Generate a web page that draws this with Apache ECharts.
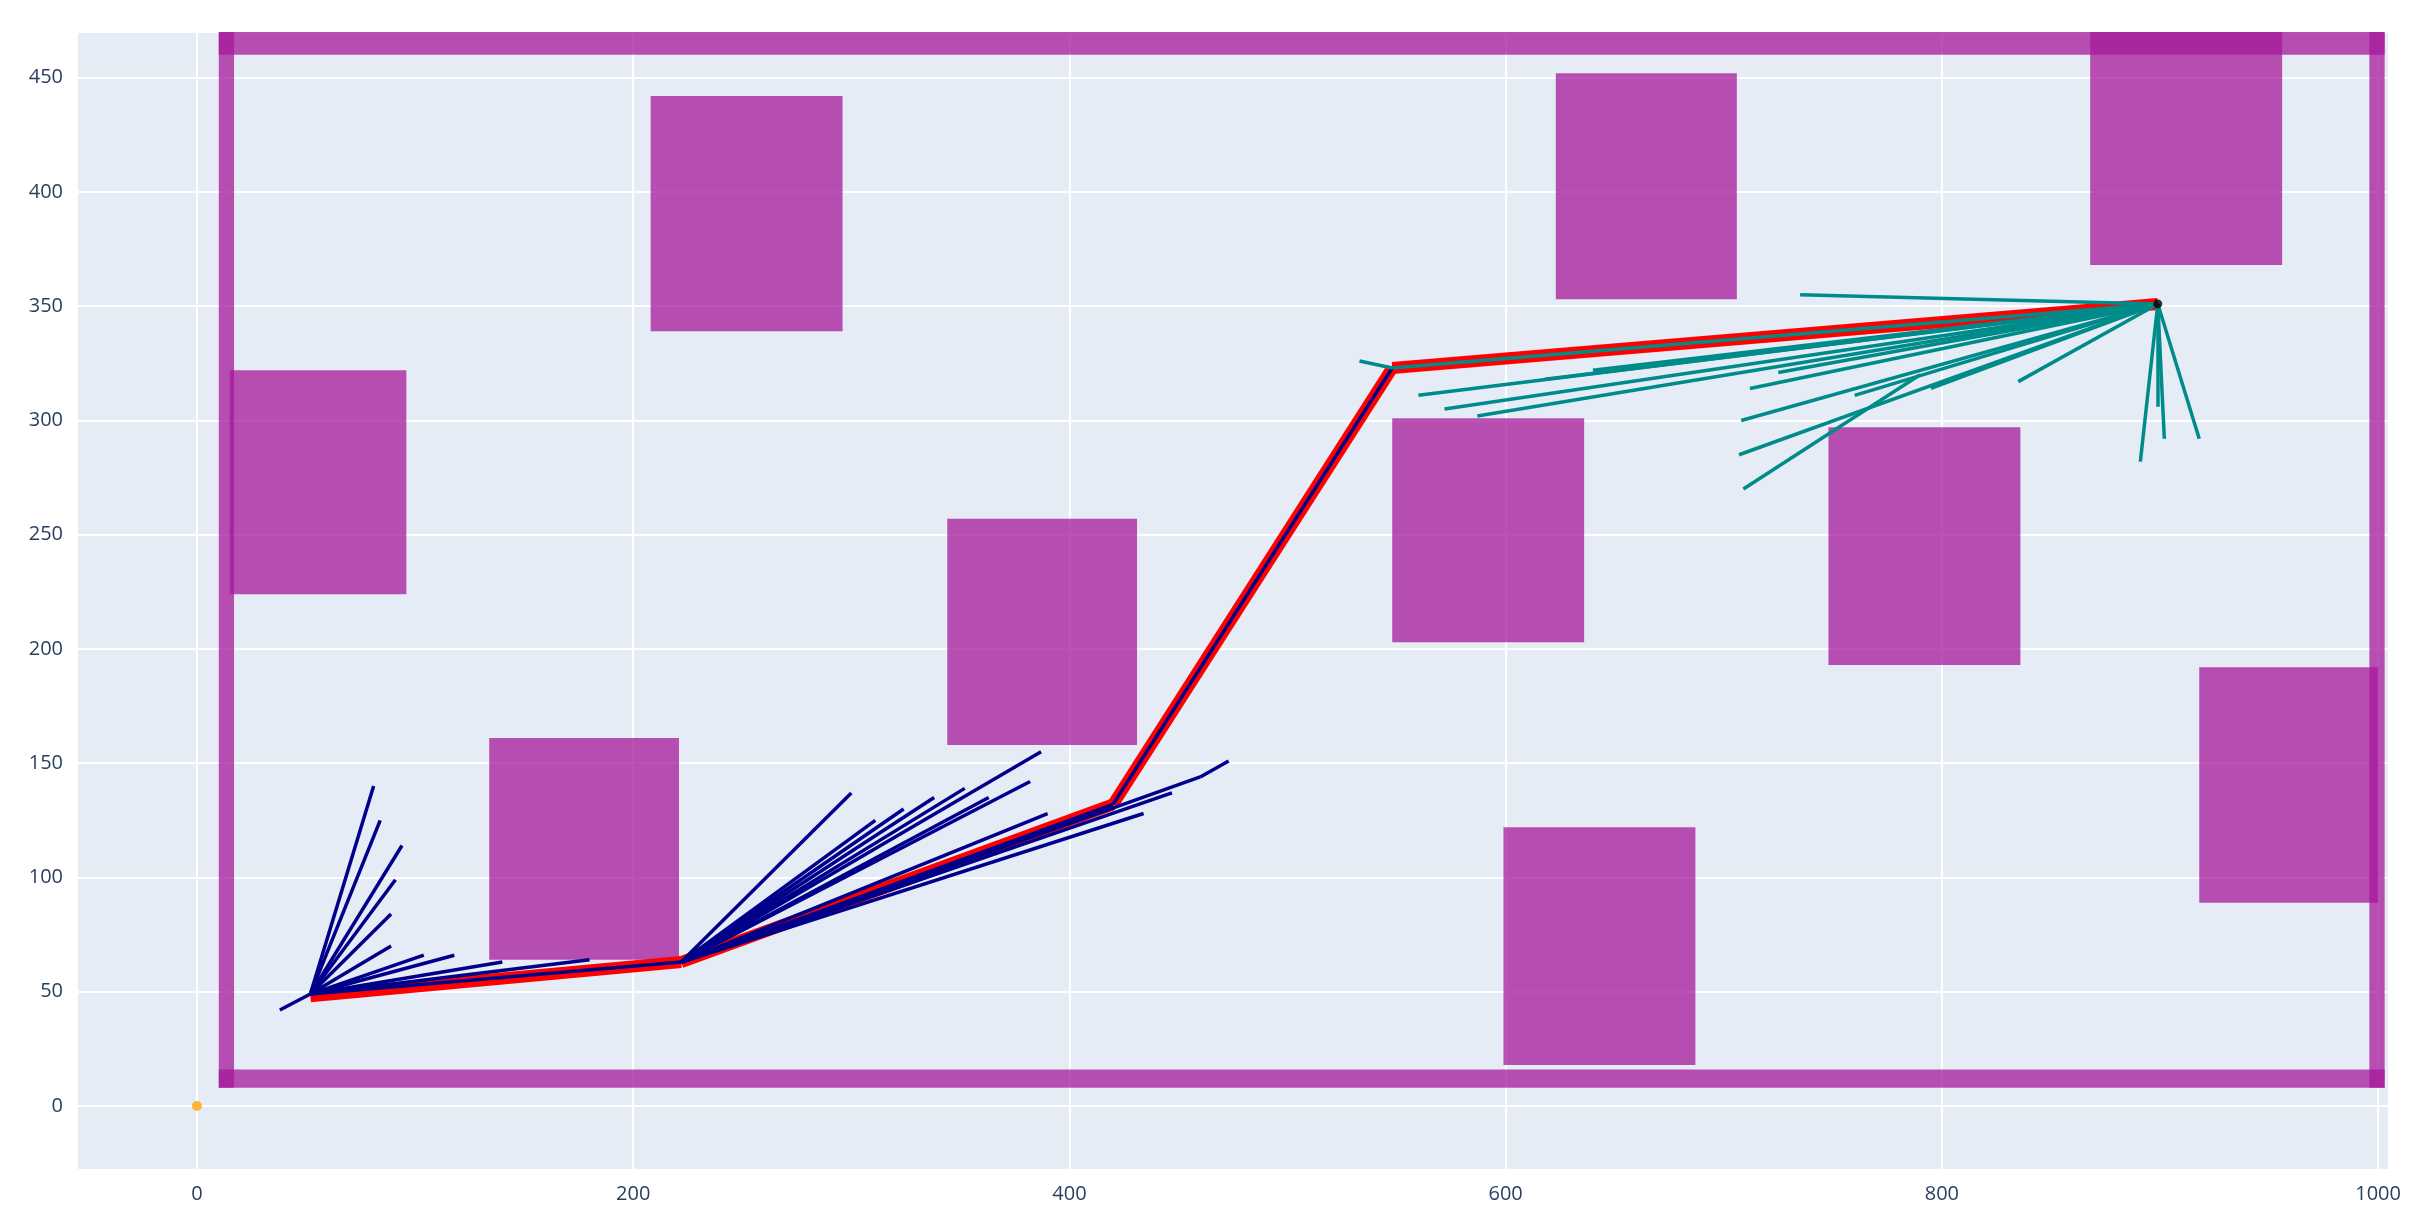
<!DOCTYPE html>
<html>
<head>
<meta charset="utf-8">
<script src="https://cdn.jsdelivr.net/npm/echarts@6/dist/echarts.min.js"></script>
<style>
  html, body { margin: 0; padding: 0; background: #fff; }
  #chart { width: 2424px; height: 1230px; }
</style>
</head>
<body>
<div id="chart"></div>
<script>
// obstacles and walls: [x0, y0, x1, y1]
var walls = [
  [10, 8, 1003, 16],
  [10, 460, 1003, 470],
  [10, 8, 17, 470],
  [996, 8, 1003, 470]
];
var obstacles = [
  [15, 224, 96, 322],
  [208, 339, 296, 442],
  [134, 64, 221, 161],
  [344, 158, 431, 257],
  [548, 203, 636, 301],
  [623, 353, 706, 452],
  [599, 18, 687, 122],
  [748, 193, 836, 297],
  [868, 368, 956, 470],
  [918, 89, 1000, 192]
];

var start = [52, 49];
var goal = [899, 351];
var pathPoints = [[52, 48], [222, 63], [420, 132], [548, 323], [899, 351]];

// start tree: [from, to]
var startTree = [
  [[52, 49], [81, 140]], [[52, 49], [84, 125]], [[52, 49], [94, 114]],
  [[52, 49], [91, 99]], [[52, 49], [89, 84]], [[52, 49], [89, 70]],
  [[52, 49], [104, 66]], [[52, 49], [118, 66]], [[52, 49], [38, 42]],
  [[52, 49], [140, 63]], [[52, 49], [180, 64]], [[52, 49], [222, 63]],
  [[222, 63], [300, 137]], [[222, 63], [324, 130]], [[222, 63], [311, 125]],
  [[222, 63], [338, 135]], [[222, 63], [352, 139]], [[222, 63], [363, 135]],
  [[222, 63], [382, 142]], [[222, 63], [387, 155]], [[222, 63], [390, 128]],
  [[222, 63], [277, 80]], [[222, 63], [420, 132]], [[222, 63], [434, 128]],
  [[222, 63], [447, 137]], [[222, 63], [460, 144]], [[460, 144], [473, 151]],
  [[420, 132], [548, 323]]
];
// goal tree
var goalTree = [
  [[899, 351], [735, 355]], [[548, 323], [533, 326]], [[899, 351], [560, 311]],
  [[899, 351], [572, 305]], [[899, 351], [587, 302]], [[899, 351], [708, 300]],
  [[899, 351], [707, 285]], [[790, 320], [709, 270]], [[899, 351], [712, 314]],
  [[899, 351], [835, 317]], [[899, 351], [891, 282]], [[899, 351], [902, 292]],
  [[899, 351], [918, 292]], [[899, 351], [899, 306]], [[899, 351], [760, 311]],
  [[899, 351], [795, 314]], [[899, 351], [725, 321]], [[899, 351], [618, 318]],
  [[899, 351], [640, 322]], [[899, 351], [548, 323]]
];

var chart = echarts.init(document.getElementById("chart"));

function rectSeries(rects, color) {
  return {
    type: "custom",
    coordinateSystem: "cartesian2d",
    silent: true,
    data: rects,
    encode: { x: [0, 2], y: [1, 3] },
    renderItem: function (params, api) {
      var p0 = api.coord([api.value(0), api.value(1)]);
      var p1 = api.coord([api.value(2), api.value(3)]);
      return {
        type: "rect",
        shape: {
          x: Math.min(p0[0], p1[0]),
          y: Math.min(p0[1], p1[1]),
          width: Math.abs(p1[0] - p0[0]),
          height: Math.abs(p1[1] - p0[1])
        },
        style: { fill: color }
      };
    }
  };
}

function segSeries(segs, color, width) {
  return {
    type: "lines",
    coordinateSystem: "cartesian2d",
    silent: true,
    data: segs.map(function (s) { return { coords: s }; }),
    lineStyle: { color: color, width: width, opacity: 1 }
  };
}

var axisLabel = {
  color: "#2a3f5f", fontSize: 20, fontFamily: "Open Sans",
  showMinLabel: false, showMaxLabel: false,
  formatter: function (v) { return String(v); }
};

chart.setOption({
  animation: false,
  backgroundColor: "#fff",
  grid: { left: 77, right: 35, top: 32, bottom: 60, backgroundColor: "#E5ECF6", show: true, borderWidth: 0 },
  xAxis: {
    type: "value", min: -55, max: 1005, splitNumber: 5,
    axisLine: { show: false }, axisTick: { show: false },
    splitLine: { lineStyle: { color: "#fff", width: 2 } },
    axisLabel: Object.assign({ margin: 14 }, axisLabel)
  },
  yAxis: {
    type: "value", min: -28, max: 470, splitNumber: 10,
    axisLine: { show: false }, axisTick: { show: false },
    splitLine: { lineStyle: { color: "#fff", width: 2 } },
    axisLabel: Object.assign({ margin: 14 }, axisLabel)
  },
  series: [
    rectSeries(walls, "rgba(165,25,155,0.75)"),
    rectSeries(obstacles, "rgba(165,25,155,0.75)"),
    segSeries([pathPoints.slice(0, 2), pathPoints.slice(1, 3), pathPoints.slice(2, 4), pathPoints.slice(3, 5)], "#ff0000", 12),
    segSeries(startTree, "#00008b", 3.5),
    segSeries(goalTree, "#008b8b", 3.5),
    {
      type: "scatter", silent: true, symbolSize: 10,
      data: [[0, 0]], itemStyle: { color: "#ffa500" }
    },
    {
      type: "scatter", silent: true, symbolSize: 9,
      data: [goal], itemStyle: { color: "#000" }
    }
  ]
});
</script>
</body>
</html>
